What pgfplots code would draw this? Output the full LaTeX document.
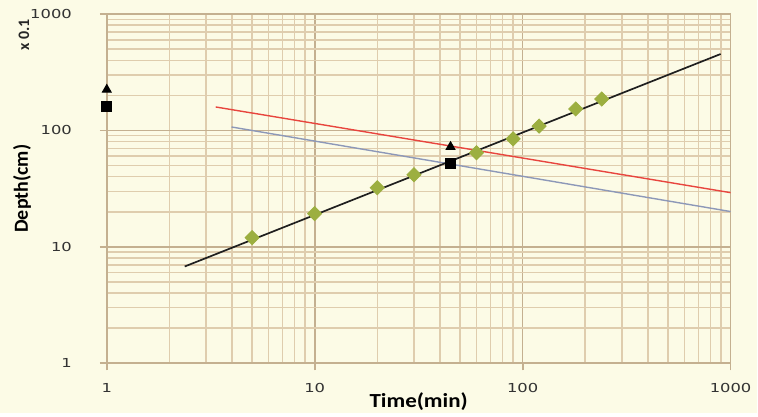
\documentclass[border=0pt]{standalone}
\usepackage{graphicx}
\usepackage{fontspec}
\setmainfont{Carlito}
\newfontfamily\tickfont{DejaVu Sans}
\usepackage{pgfplots}
\pgfplotsset{compat=1.18}

\definecolor{bgcream}{HTML}{FCFBE6}
\definecolor{gridminor}{HTML}{DFCDAE}
\definecolor{gridmajor}{HTML}{C4B090}
\definecolor{tickgray}{HTML}{333333}
\definecolor{greenm}{HTML}{9CAF40}
\definecolor{redl}{HTML}{E8453E}
\definecolor{bluel}{HTML}{8D98B8}

% the source image is stretched sideways, so the tick numbers are too
\newcommand{\tl}[1]{\scalebox{1.32}[1]{#1}}

\begin{document}
\begin{tikzpicture}
% page background
\fill[bgcream] (0,0) rectangle (379pt,207pt);
\begin{axis}[
    at={(53.5pt,25pt)}, anchor=south west,
    scale only axis, width=312.5pt, height=175pt,
    xmode=log, ymode=log,
    xmin=1, xmax=1000, ymin=1, ymax=1000,
    xtick={1,10,100,1000}, xticklabels={\tl{1},\tl{10},\tl{100},\tl{1000}},
    ytick={1,10,100,1000}, yticklabels={\tl{1},\tl{10},\tl{100},\tl{1000}},
    minor xtick={2,3,4,5,6,7,8,9,20,30,40,50,60,70,80,90,200,300,400,500,600,700,800,900},
    minor ytick={2,3,4,5,6,7,8,9,20,30,40,50,60,70,80,90,200,300,400,500,600,700,800,900},
    grid=both,
    minor grid style={color=gridminor, line width=0.75pt},
    major grid style={color=gridmajor, line width=0.8pt},
    axis line style={color=gridmajor, line width=0.9pt},
    tick align=outside, major tick length=3.5pt, minor tick length=0pt,
    tick style={color=gridmajor, line width=0.9pt},
    xtick pos=bottom, ytick pos=left,
    ticklabel style={font=\tickfont\fontsize{6.2}{8}\selectfont, text=tickgray},
    xticklabel style={yshift=-3pt},
    yticklabel style={xshift=-10.5pt},
    xlabel={\scalebox{1.15}[1]{\bfseries Time(min)}},
    ylabel={\bfseries Depth(cm)},
    label style={font=\fontsize{8.5}{10}\selectfont, text=black!85},
    every axis x label/.style={at={(axis description cs:0.5,0)}, anchor=center, yshift=-19pt},
    every axis y label/.style={at={(axis description cs:0,0.5)}, anchor=center, xshift=-42.5pt, rotate=90},
    clip=false,
]
% trend lines
\addplot[bluel, line width=0.7pt] coordinates {(3.98,107) (1000,20.1)};
\addplot[redl, line width=0.7pt] coordinates {(3.34,159) (1000,29.2)};
% measured depths
\addplot[only marks, mark=square*, mark size=2.5pt, mark options={rotate=45}, color=greenm, fill=greenm] coordinates {
    (5,12.0) (10,19.3) (20,32.2) (30,41.6) (60,64.3) (90,84.5) (120,109) (180,153) (240,186)
};
% fitted power law
\addplot[black!88, line width=0.85pt] coordinates {(2.37,6.78) (896,453)};
% single observations
\addplot[only marks, mark=square*, mark size=2.5pt, black] coordinates {(1,160) (45,51.7)};
\addplot[only marks, mark=triangle*, mark size=2.6pt, black] coordinates {(1,224) (45,72.3)};
\node[anchor=center, font=\fontsize{8}{10}\selectfont\bfseries, text=black!85,
      xshift=-41.5pt, yshift=-10.5pt, rotate=90] at (rel axis cs:0,1) {x 0.1};
\end{axis}
\end{tikzpicture}
\end{document}
